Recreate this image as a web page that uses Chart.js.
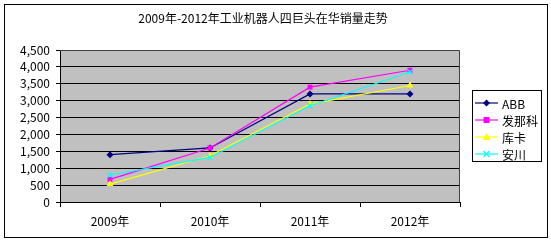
<!DOCTYPE html>
<html>
<head>
<meta charset="utf-8">
<script src="https://cdn.jsdelivr.net/npm/chart.js@4.4.0/dist/chart.umd.min.js"></script>
<style>
  body { margin: 0; background: #fff; }
  canvas { display: block; }
</style>
</head>
<body>
<canvas id="chart" width="551" height="242"></canvas>
<script>
// === DATA ===
const years = ["2009年", "2010年", "2011年", "2012年"];
const abb = [1400, 1600, 3200, 3200];
const fanuc = [670, 1600, 3400, 3900];
const kuka = [530, 1370, 2900, 3450];
const yaskawa = [800, 1320, 2850, 3850];
const titleText = "2009年-2012年工业机器人四巨头在华销量走势";

const FONT = "'SimSun', 'Noto Sans CJK SC', sans-serif";

// white page, outer frame, gray plot area
const framePlugin = {
  id: "frame",
  beforeDraw(chart) {
    const ctx = chart.ctx;
    const a = chart.chartArea;
    ctx.save();
    ctx.fillStyle = "#fff";
    ctx.fillRect(0, 0, chart.width, chart.height);
    ctx.strokeStyle = "#000";
    ctx.lineWidth = 1;
    ctx.strokeRect(4.5, 4.5, 543, 233);
    ctx.fillStyle = "#c0c0c0";
    ctx.fillRect(a.left, a.top, a.right - a.left, a.bottom - a.top);
    ctx.fillStyle = "#000";
    ctx.font = "12px " + FONT;
    ctx.textAlign = "center";
    ctx.textBaseline = "middle";
    ctx.fillText(titleText, 263, 18);
    ctx.restore();
  },
  afterDatasetsDraw(chart) {
    const ctx = chart.ctx;
    const a = chart.chartArea;
    ctx.save();
    ctx.strokeStyle = "#404040";
    ctx.lineWidth = 1;
    ctx.beginPath();
    ctx.moveTo(a.left, a.top + 0.5);
    ctx.lineTo(a.right - 0.5, a.top + 0.5);
    ctx.lineTo(a.right - 0.5, a.bottom);
    ctx.stroke();
    ctx.restore();
  },
};

function drawMarker(ctx, style, x, y, color) {
  ctx.fillStyle = color;
  ctx.strokeStyle = color;
  ctx.beginPath();
  if (style === "rectRot") {
    ctx.moveTo(x, y - 3.5); ctx.lineTo(x + 3.5, y); ctx.lineTo(x, y + 3.5); ctx.lineTo(x - 3.5, y);
    ctx.closePath(); ctx.fill();
  } else if (style === "rect") {
    ctx.rect(x - 3, y - 3, 6, 6); ctx.fill();
  } else if (style === "triangle") {
    ctx.moveTo(x, y - 4); ctx.lineTo(x + 4, y + 3); ctx.lineTo(x - 4, y + 3);
    ctx.closePath(); ctx.fill();
  } else {
    ctx.lineWidth = 1.2;
    ctx.moveTo(x - 3, y - 3); ctx.lineTo(x + 3, y + 3);
    ctx.moveTo(x + 3, y - 3); ctx.lineTo(x - 3, y + 3);
    ctx.stroke();
  }
}

// legend box on the right
const legendPlugin = {
  id: "boxLegend",
  afterDraw(chart) {
    const ctx = chart.ctx;
    ctx.save();
    ctx.fillStyle = "#fff";
    ctx.fillRect(472, 90, 69, 71);
    ctx.strokeStyle = "#000";
    ctx.lineWidth = 1;
    ctx.strokeRect(472.5, 90.5, 69, 71);
    ctx.font = "12px " + FONT;
    ctx.textBaseline = "middle";
    chart.data.datasets.forEach((ds, i) => {
      const y = 103 + i * 17;
      ctx.strokeStyle = ds.borderColor;
      ctx.lineWidth = 1.2;
      ctx.beginPath();
      ctx.moveTo(475, y);
      ctx.lineTo(498, y);
      ctx.stroke();
      drawMarker(ctx, ds.pointStyle, 486.5, y, ds.borderColor);
      ctx.fillStyle = "#000";
      ctx.fillText(ds.label, 502, y + 1);
    });
    ctx.restore();
  },
};

function series(label, data, color, style, radius, order) {
  return {
    label, data, order,
    borderColor: color,
    backgroundColor: color,
    borderWidth: 1.2,
    pointStyle: style,
    pointRadius: radius,
    pointBorderWidth: style === "crossRot" ? 1.2 : 0,
    pointBackgroundColor: color,
    pointBorderColor: color,
    tension: 0,
  };
}

new Chart(document.getElementById("chart"), {
  type: "line",
  data: {
    labels: years,
    datasets: [
      series("ABB", abb, "#000080", "rectRot", 3.5, 3),
      series("发那科", fanuc, "#ff00ff", "rect", 3.5, 2),
      series("库卡", kuka, "#ffff00", "triangle", 4, 1),
      series("安川", yaskawa, "#00ffff", "crossRot", 3.5, 0),
    ],
  },
  options: {
    responsive: false,
    animation: false,
    layout: { padding: { left: 0, right: 91, top: 50, bottom: 0 } },
    plugins: { legend: { display: false }, title: { display: false }, tooltip: { enabled: false } },
    scales: {
      x: {
        offset: true,
        afterFit: (s) => { s.height = 40; },
        grid: { offset: true, drawOnChartArea: false, color: "#000", tickLength: 5 },
        border: { color: "#000" },
        ticks: { color: "#000", font: { family: FONT, size: 12 }, padding: 7, maxRotation: 0 },
      },
      y: {
        min: 0,
        max: 4500,
        afterFit: (s) => { s.width = 60; },
        grid: {
          color: (c) => (c.tick && c.tick.value === 4500 ? "rgba(0,0,0,0)" : "#000"),
          tickColor: "#000",
          tickLength: 4,
        },
        border: { color: "#000" },
        ticks: {
          stepSize: 500,
          autoSkip: false,
          color: "#000",
          padding: 6,
          font: { family: FONT, size: 12 },
          callback: (v) => v.toLocaleString("en-US"),
        },
      },
    },
  },
  plugins: [framePlugin, legendPlugin],
});
</script>
</body>
</html>
